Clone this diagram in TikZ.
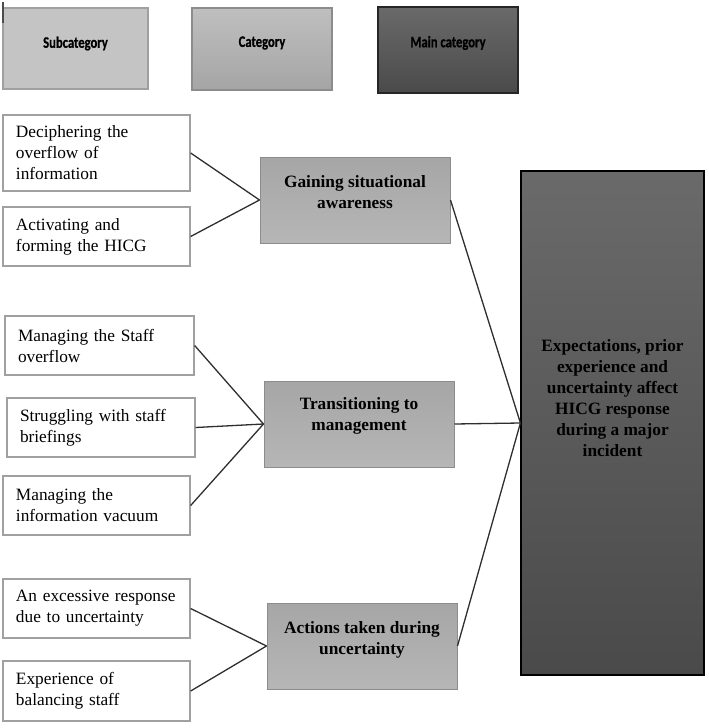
\documentclass[tikz,border=0pt]{standalone}
\usepackage{xcolor}
\usepackage{fontspec}
\setmainfont{Liberation Serif}
\newfontfamily\hdfont[FakeStretch=0.79,FakeBold=0.6]{Carlito}
\usepackage{tikz}
\usetikzlibrary{calc}
\definecolor{hdsub}{HTML}{C4C4C4}
\definecolor{hdcattop}{HTML}{BFBFBF}
\definecolor{hdcatbot}{HTML}{A5A5A5}
\definecolor{maintop}{HTML}{6A6A6A}
\definecolor{mainbot}{HTML}{4A4A4A}
\definecolor{cattop}{HTML}{A6A6A6}
\definecolor{catbot}{HTML}{B6B6B6}
\definecolor{subline}{HTML}{A0A0A0}
\definecolor{catline}{HTML}{8C8C8C}
\definecolor{linkcol}{HTML}{2E2E2E}
\newcommand{\bodyfont}{\fontsize{17.3}{21}\selectfont}
\tikzset{
 hdbox/.style = {draw=subline, line width=1.2pt, inner sep=0pt},
 hdtext/.style = {font=\hdfont\fontsize{16}{18}\selectfont\bfseries, inner sep=0pt},
 subbox/.style = {draw=subline, line width=1.3pt, fill=white, align=left,
   text width=161pt, inner xsep=13pt, inner ysep=0pt, minimum height=59pt, font=\bodyfont},
 catbox/.style = {draw=catline, line width=1pt, top color=cattop, bottom color=catbot,
   minimum width=190pt, minimum height=86pt, inner sep=0pt},
 cattext/.style = {align=center, font=\bodyfont\bfseries, inner sep=0pt},
 link/.style = {draw=linkcol, line width=1.3pt}
}

\begin{document}
\begin{tikzpicture}[x=1pt, y=-1pt]
\useasboundingbox (0,0) rectangle (709,728);
% column heads
\node[hdbox, fill=hdsub, minimum width=145pt, minimum height=81pt] (subhd) at (75.5,48.5) {};
\node[hdbox, draw=catline, top color=hdcattop, bottom color=hdcatbot, minimum width=140pt, minimum height=82pt] (cathd) at (262,49) {};
\node[hdbox, draw=black!85, line width=1.6pt, top color=maintop, bottom color=mainbot, minimum width=140pt, minimum height=86pt] (mainhd) at (448,50) {};
\node[hdtext] (subhdt) at ([yshift=5pt]subhd.center) {Subcategory};
\node[hdtext] (cathdt) at ([yshift=6pt]cathd.center) {Category};
\node[hdtext] (mainhdt) at ([yshift=7pt]mainhd.center) {Main category};
\draw[black!70, line width=1.4pt] (3,2) -- (3,23);

% subcategories
\node[subbox, minimum height=76pt] (dec) at (96.5,153) {Deciphering the\\overflow of\\information};
\node[subbox] (act) at (96.5,236.5) {Activating and\\forming the HICG};
\node[subbox, text width=163pt] (staff) at (99.5,345.5) {Managing the Staff\\overflow};
\node[subbox, text width=162pt] (brief) at (101,427.5) {Struggling with staff\\briefings};
\node[subbox] (vac) at (96.5,505.5) {Managing the\\information vacuum};
\node[subbox] (exc) at (96.5,608.5) {An excessive response\\due to uncertainty};
\node[subbox, minimum height=60pt] (bal) at (96.5,691) {Experience of\\balancing staff};

% categories
\node[catbox] (gain) at (355,200) {};
\node[catbox] (trans) at (359,424) {};
\node[catbox] (acts) at (362,646) {};
\node[cattext] (gaint) at ([yshift=7.5pt]gain.center) {Gaining situational\\awareness};
\node[cattext] (transt) at ([yshift=8pt]trans.center) {Transitioning to\\management};
\node[cattext] (actst) at ([yshift=6.5pt]acts.center) {Actions taken during\\uncertainty};

% main category
\node[draw=black, line width=1.2pt, top color=maintop, bottom color=mainbot,
  minimum width=183pt, minimum height=504pt, inner sep=0pt] (main) at (612.5,423) {};
\node[cattext] (maint) at ([yshift=25pt]main.center) {Expectations, prior\\experience and\\uncertainty affect\\HICG response\\during a major\\incident};

% links
\foreach \s in {dec,act} \draw[link] (\s.east) -- (gain.west);
\foreach \s in {staff,brief,vac} \draw[link] (\s.east) -- (trans.west);
\foreach \s in {exc,bal} \draw[link] (\s.east) -- (acts.west);
\foreach \c in {gain,trans,acts} \draw[link] (\c.east) -- (main.west);
\end{tikzpicture}
\end{document}
